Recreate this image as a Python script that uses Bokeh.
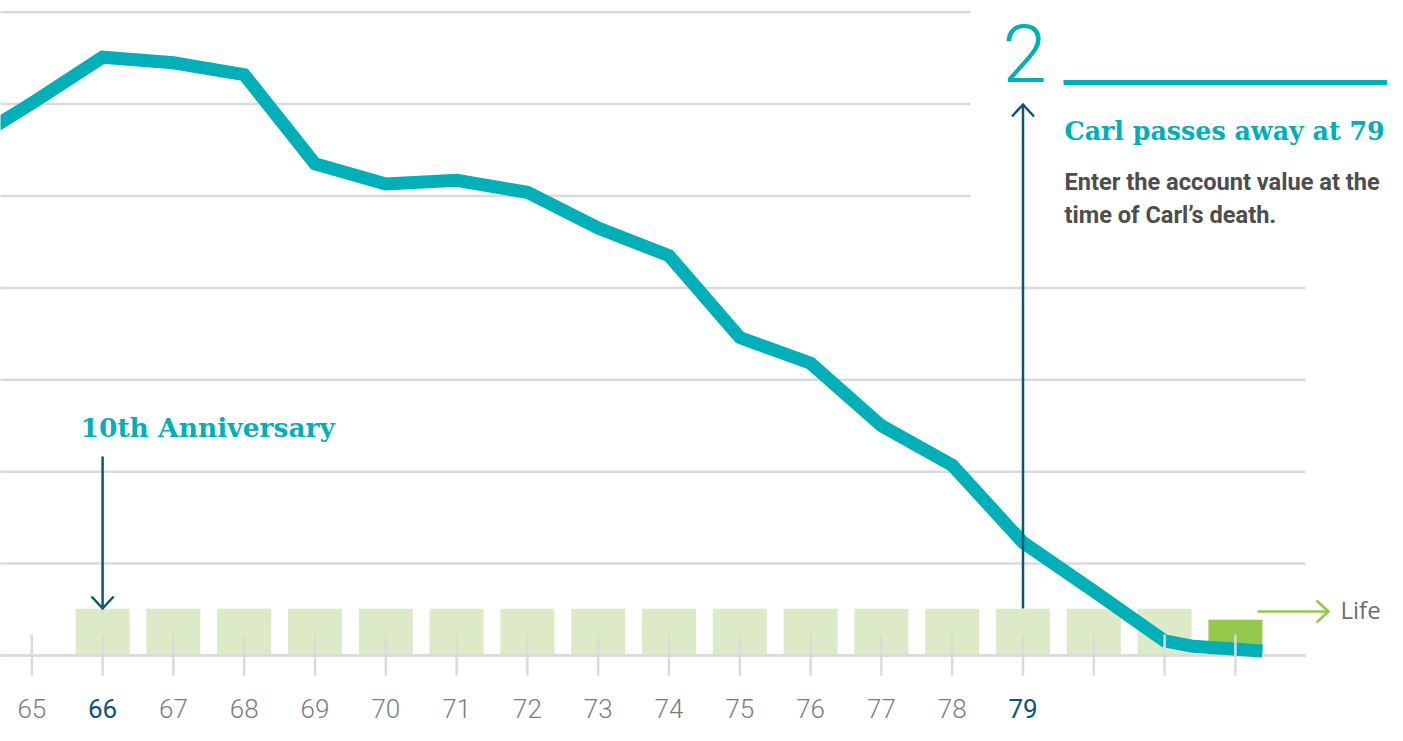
from bokeh.plotting import figure
from bokeh.models import Range1d
from bokeh.core.properties import value
from bokeh.embed import file_html
from bokeh.resources import INLINE

# ---------------- data ----------------
line_ages = [64, 65, 66, 67, 68, 69, 70, 71, 72, 73, 74, 75, 76, 77, 78, 79, 80, 81, 81.4, 82.38]
account_values = [5.53, 6.01, 6.51, 6.45, 6.32, 5.35, 5.13, 5.17, 5.04, 4.65, 4.35, 3.46,
                  3.18, 2.50, 2.07, 1.23, 0.70, 0.16, 0.10, 0.05]
tick_ages = list(range(65, 83))
label_ages = list(range(65, 80))
highlight_ages = [66, 79]
life_ages = list(range(66, 82))
life_heights = [0.51] * len(life_ages)
final_ages = [82]
final_heights = [0.39]
grid_levels = [0, 1, 2, 3, 4, 5, 6, 7]
short_grid_levels = [5, 6, 7]

# ---------------- colours ----------------
TEAL = "#00AFB8"
NAVY = "#0B5578"
GRID = "#D8DBDE"
LIGHT_GREEN = "#DCEAC7"
GREEN = "#93C84A"
LABEL_GRAY = "#7A7C80"
TEXT_GRAY = "#4D4D4D"

# pixel -> data helpers
def ax(px):
    return 65 + (px - 31.3) / 70.8

def vy(py):
    return (655 - py) / 91.9

K = 0.38  # svg text baseline compensation

def ty(py, size):
    return vy(py - K * size)

W, H = 1387, 725
p = figure(width=W, height=H, output_backend="svg", toolbar_location=None,
           x_range=Range1d(ax(0), ax(W)), y_range=Range1d(vy(H), vy(0)),
           x_axis_location=None, y_axis_location=None, min_border=0)
p.grid.visible = False
p.outline_line_color = None
p.background_fill_color = "white"

# gridlines
x_left = ax(-5)
g_x1 = [ax(970) if g in short_grid_levels else ax(1305) for g in grid_levels]
p.segment(x0=[x_left] * len(grid_levels), y0=grid_levels, x1=g_x1, y1=grid_levels,
          line_color=GRID, line_width=2.5)

# life bars
bw = 54 / 70.8
p.vbar(x=life_ages, top=life_heights, bottom=0, width=bw, fill_color=LIGHT_GREEN, line_color=None)
p.vbar(x=final_ages, top=final_heights, bottom=0, width=bw, fill_color=GREEN, line_color=None)

# baseline on top of bars
p.segment(x0=[x_left], y0=[0], x1=[ax(1305)], y1=[0], line_color=GRID, line_width=2.5)

# account value line
p.line(line_ages, account_values, line_color=TEAL, line_width=13, line_join="miter")

# ticks
p.segment(x0=tick_ages, y0=[vy(675)] * len(tick_ages), x1=tick_ages, y1=[vy(634)] * len(tick_ages),
          line_color=GRID, line_width=2.5)

# tick labels
LS = 26
LB = 717.5
plain = [a for a in label_ages if a not in highlight_ages]
p.text(x=plain, y=[ty(LB, LS)] * len(plain), text=[str(a) for a in plain],
       text_color=LABEL_GRAY, text_font=value("Roboto Light"), text_font_size=f"{LS}px",
       text_align="center", text_baseline="alphabetic")
p.text(x=highlight_ages, y=[ty(LB, LS)] * len(highlight_ages), text=[str(a) for a in highlight_ages],
       text_color=NAVY, text_font=value("Roboto"), text_font_size=f"{LS}px",
       text_align="center", text_baseline="alphabetic")

# 10th anniversary arrow
a66 = highlight_ages[0]
p.segment(x0=[a66], y0=[vy(456)], x1=[a66], y1=[vy(607)], line_color=NAVY, line_width=2.5)
p.line([a66 - 11 / 70.8, a66, a66 + 11 / 70.8], [vy(596), vy(608), vy(596)],
       line_color=NAVY, line_width=2.5, line_join="miter")
HS = 26.5
p.text(x=[ax(80)], y=[ty(437, HS)], text=["10th Anniversary"], text_color=TEAL,
       text_font=value("DejaVu Serif"), text_font_style="bold", text_font_size=f"{HS}px",
       text_align="left", text_baseline="alphabetic")

# death arrow
a79 = highlight_ages[1]
p.segment(x0=[a79], y0=[vy(608)], x1=[a79], y1=[vy(105)], line_color=NAVY, line_width=2.5)
p.line([a79 - 11 / 70.8, a79, a79 + 11 / 70.8], [vy(116), vy(104), vy(116)],
       line_color=NAVY, line_width=2.5, line_join="miter")

# step "2" header
NS = 80
p.text(x=[ax(1002)], y=[ty(83, NS)], text=["2"], text_color=TEAL,
       text_font=value("Roboto Light"), text_font_size=f"{NS}px",
       text_align="left", text_baseline="alphabetic")
p.segment(x0=[ax(1063)], y0=[vy(82)], x1=[ax(1420)], y1=[vy(82)], line_color=TEAL, line_width=5)
CS = 25.3
p.text(x=[ax(1064)], y=[ty(140, CS)], text=["Carl passes away at 79"], text_color=TEAL,
       text_font=value("DejaVu Serif"), text_font_style="bold", text_font_size=f"{CS}px",
       text_align="left", text_baseline="alphabetic")
BS = 23.6
p.text(x=[ax(1064), ax(1064)], y=[ty(190.5, BS), ty(223, BS)],
       text=["Enter the account value at the", "time of Carl\u2019s death."],
       text_color=TEXT_GRAY, text_font=value("Roboto"), text_font_style="bold",
       text_font_size=f"{BS}px", text_align="left", text_baseline="alphabetic")

# Life legend arrow
p.segment(x0=[ax(1257)], y0=[vy(611)], x1=[ax(1327)], y1=[vy(611)], line_color=GREEN, line_width=2.5)
p.line([ax(1316), ax(1328), ax(1316)], [vy(600), vy(611), vy(622)],
       line_color=GREEN, line_width=2.5, line_join="miter")
FS = 24
p.text(x=[ax(1340)], y=[ty(618, FS)], text=["Life"], text_color="#6D6E71",
       text_font=value("Open Sans"), text_font_size=f"{FS}px",
       text_align="left", text_baseline="alphabetic")

open("out.html", "w").write(file_html(p, INLINE))
